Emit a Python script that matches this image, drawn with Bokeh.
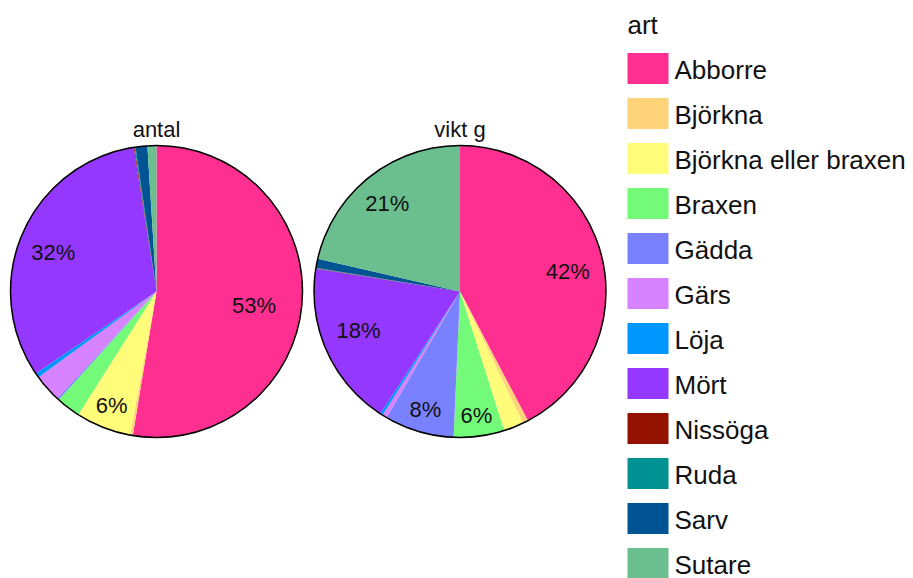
import math
from bokeh.plotting import figure
from bokeh.models import ColumnDataSource, Range1d
from bokeh.core.properties import value
from bokeh.embed import file_html
from bokeh.resources import INLINE

# ---------------- data ----------------
categories = ["Abborre", "Björkna", "Björkna eller braxen", "Braxen", "Gädda", "Gärs",
              "Löja", "Mört", "Nissöga", "Ruda", "Sarv", "Sutare"]
antal_pct = [52.6, 0.3, 6.1, 2.7, 0.2, 3.1, 0.5, 32.0, 0.1, 0.1, 1.3, 1.0]
vikt_pct = [42.3, 0.6, 2.2, 5.6, 7.7, 0.5, 0.3, 18.3, 0.05, 0.05, 1.0, 21.4]
pie_titles = ["antal", "vikt g"]
legend_title = "art"

# ---------------- style ----------------
colors = ["#FF2F92", "#FFD479", "#FFFC79", "#73FA79", "#7A81FF", "#D783FF",
          "#0096FF", "#9437FF", "#941100", "#009193", "#005493", "#6BBE8E"]
FONT = "Liberation Sans"
W, H = 913, 578


def Y(py):  # page pixel y -> data y
    return H - py


pie_centers = [(156, 291), (459.5, 291)]
R = 146
label_radius = {
    "antal": {"Abborre": 0.67, "Mört": 0.77, "Björkna eller braxen": 0.84},
    "vikt g": {"Abborre": 0.76, "Sutare": 0.80, "Mört": 0.76, "Gädda": 0.84, "Braxen": 0.86},
}
label_dy = {  # small screen-pixel nudges (downwards positive)
    "antal": {"Abborre": 6, "Mört": 6},
    "vikt g": {"Abborre": 7, "Sutare": 3, "Mört": -6},
}

p = figure(width=W, height=H, output_backend="svg", toolbar_location=None,
           x_range=Range1d(0, W), y_range=Range1d(0, H),
           min_border=0, min_border_left=0, min_border_right=0,
           min_border_top=0, min_border_bottom=0)
p.axis.visible = False
p.grid.visible = False
p.outline_line_color = None
p.background_fill_color = "white"
p.border_fill_color = "white"

for (cx, cy), title, vals in zip(pie_centers, pie_titles, [antal_pct, vikt_pct]):
    total = sum(vals)
    starts, ends, xs, ys = [], [], [], []
    lx, ly, lt = [], [], []
    c = 0.0
    for cat, v in zip(categories, vals):
        f0 = c / total
        c += v
        f1 = c / total
        starts.append(math.pi / 2 - 2 * math.pi * f0)
        ends.append(math.pi / 2 - 2 * math.pi * f1)
        xs.append(cx)
        ys.append(Y(cy))
        pct = v / total * 100
        if pct >= 5:
            mid = (f0 + f1) / 2 * 2 * math.pi
            rf = label_radius[title].get(cat, 0.8) * R
            lx.append(cx + rf * math.sin(mid))
            ly.append(Y(cy) + rf * math.cos(mid) - label_dy[title].get(cat, 0))
            lt.append(f"{round(pct)}%")
    src = ColumnDataSource(dict(x=xs, y=ys, start=starts, end=ends, color=colors, art=categories))
    p.wedge(x="x", y="y", radius=R, start_angle="start", end_angle="end",
            direction="clock", fill_color="color", line_color=None, source=src)
    p.circle(x=[cx], y=[Y(cy)], radius=R, fill_color=None, line_color="black", line_width=1.5)
    p.text(x=lx, y=ly, text=lt, text_align="center", text_baseline="middle",
           text_font=value(FONT), text_font_size="22px", text_color="#111111")
    p.text(x=[cx], y=[Y(129)], text=[title], text_align="center", text_baseline="middle",
           text_font=value(FONT), text_font_size="22px", text_color="#111111")

# ---------------- legend (drawn) ----------------
sw_x0, sw_x1 = 627, 668
sw_top0, sw_h, sw_step = 52.5, 31, 45.0
lg_x, lg_y, lg_tx, lg_ty = [], [], [], []
for i, cat in enumerate(categories):
    top = sw_top0 + i * sw_step
    lg_x.append((sw_x0 + sw_x1) / 2)
    lg_y.append(Y(top + sw_h / 2))
    lg_tx.append(674)
    lg_ty.append(Y(top + 16.5))
lsrc = ColumnDataSource(dict(x=lg_x, y=lg_y, tx=lg_tx, ty=lg_ty, color=colors, art=categories))
p.rect(x="x", y="y", width=sw_x1 - sw_x0, height=sw_h, fill_color="color", line_color=None, source=lsrc)
p.text(x="tx", y="ty", text="art", source=lsrc, text_align="left", text_baseline="middle",
       text_font=value(FONT), text_font_size="26px", text_color="#111111")
p.text(x=[627], y=[Y(24)], text=[legend_title], text_align="left", text_baseline="middle",
       text_font=value(FONT), text_font_size="26px", text_color="#111111")

open("out.html", "w").write(file_html(p, INLINE))
